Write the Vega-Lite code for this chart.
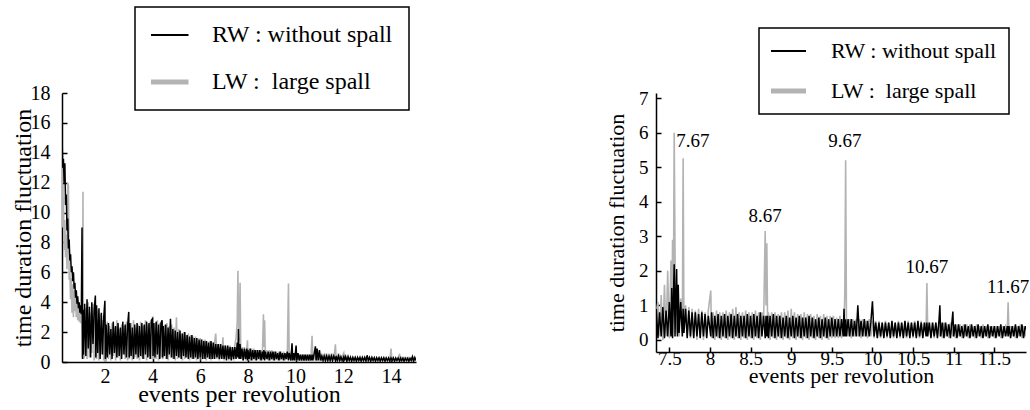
{
"$schema": "https://vega.github.io/schema/vega-lite/v6.json",
"background": "white",
"padding": {"left": 10, "top": 6, "right": 2, "bottom": 2},
"bounds": "flush",
"spacing": 240,
"config": {
  "view": {"stroke": null},
  "font": "Liberation Serif",
  "axis": {"domainColor": "black", "domainWidth": 1.5, "tickColor": "black", "tickWidth": 1.5, "tickSize": -5, "labelColor": "black", "titleColor": "black", "labelFont": "Liberation Serif", "titleFont": "Liberation Serif", "titleFontWeight": "normal", "grid": false, "labelOverlap": false, "labelFlush": false}
},
"resolve": {"scale": {"color": "independent"}, "legend": {"color": "independent"}},
"hconcat": [
{
  "width": 354, "height": 269,
  "data": {"values": [
{"x":0.2,"rw":15.2,"lw":14},{"x":0.23,"rw":13,"lw":9},{"x":0.26,"rw":13.6,"lw":11},{"x":0.29,"rw":12,"lw":7.5},{"x":0.32,"rw":13.3,"lw":9.5},{"x":0.35,"rw":10.5,"lw":7},{"x":0.38,"rw":11.2,"lw":8.5},{"x":0.41,"rw":8.8,"lw":6.2},{"x":0.44,"rw":9.6,"lw":12},{"x":0.47,"rw":7.6,"lw":11.8},{"x":0.5,"rw":8.2,"lw":5.5},{"x":0.53,"rw":6.8,"lw":6},{"x":0.56,"rw":7.2,"lw":4.2},{"x":0.59,"rw":6,"lw":5.6},{"x":0.62,"rw":6.4,"lw":3.3},{"x":0.65,"rw":5.4,"lw":5.2},{"x":0.68,"rw":6,"lw":3},{"x":0.71,"rw":4.9,"lw":4.8},{"x":0.74,"rw":5.3,"lw":3.4},{"x":0.77,"rw":4.3,"lw":4.5},{"x":0.8,"rw":4.8,"lw":3},{"x":0.83,"rw":3.9,"lw":4.2},{"x":0.86,"rw":4.4,"lw":2.8},{"x":0.89,"rw":3.6,"lw":3.9},{"x":0.92,"rw":4,"lw":2.7},{"x":0.95,"rw":3.3,"lw":3.6},{"x":0.98,"rw":3.8,"lw":2.6},{"x":1.01,"rw":3.2,"lw":3.4},{"x":1.04,"rw":9,"lw":2.4},{"x":1.06,"rw":0.2,"lw":0.3},{"x":1.08,"rw":3.5,"lw":11.4},{"x":1.1,"rw":0.5,"lw":0.2},
{"x":1.15,"rw":3.9,"lw":0.4},{"x":1.2,"rw":0.4,"lw":3.6},{"x":1.25,"rw":4.2,"lw":0.2},{"x":1.3,"rw":0.9,"lw":4},{"x":1.35,"rw":3.7,"lw":0.3},{"x":1.4,"rw":0.3,"lw":3.3},{"x":1.45,"rw":4,"lw":0.6},{"x":1.5,"rw":1.2,"lw":3.9},{"x":1.55,"rw":3.5,"lw":0.1},{"x":1.6,"rw":4.45,"lw":3},{"x":1.62,"rw":0.3,"lw":0.4},{"x":1.65,"rw":3.8,"lw":0.2},{"x":1.7,"rw":0.6,"lw":3.5},{"x":1.75,"rw":3.6,"lw":0.1},{"x":1.8,"rw":0.2,"lw":3.2},{"x":1.85,"rw":3.3,"lw":0.5},{"x":1.9,"rw":0.5,"lw":2.8},{"x":1.95,"rw":3,"lw":0.1},{"x":2,"rw":4.1,"lw":2.6},{"x":2.02,"rw":0.2,"lw":0.3},{"x":2.05,"rw":2.5,"lw":0},
{"x":2.1,"rw":0.3,"lw":2.7},{"x":2.15,"rw":2.6,"lw":0.2},{"x":2.2,"rw":0.5,"lw":2.4},{"x":2.25,"rw":2.2,"lw":0.1},{"x":2.3,"rw":0.2,"lw":2.6},{"x":2.35,"rw":2.7,"lw":0.4},{"x":2.4,"rw":0.6,"lw":2.3},{"x":2.45,"rw":2.4,"lw":0.1},{"x":2.5,"rw":0.3,"lw":2.8},{"x":2.55,"rw":2.6,"lw":0.3},{"x":2.6,"rw":0.4,"lw":2.2},{"x":2.65,"rw":2.3,"lw":0.1},{"x":2.7,"rw":0.2,"lw":2.5},{"x":2.75,"rw":2.7,"lw":0.5},{"x":2.8,"rw":0.5,"lw":2.4},{"x":2.85,"rw":2.5,"lw":0.2},{"x":2.9,"rw":0.3,"lw":2.7},{"x":2.95,"rw":2.4,"lw":0.1},{"x":3,"rw":3.35,"lw":2.5},{"x":3.02,"rw":0.3,"lw":0.2},{"x":3.05,"rw":2.6,"lw":0.4},
{"x":3.1,"rw":0.4,"lw":2.6},{"x":3.15,"rw":2.3,"lw":0.1},{"x":3.2,"rw":0.2,"lw":2.8},{"x":3.25,"rw":2.5,"lw":0.3},{"x":3.3,"rw":0.5,"lw":2.3},{"x":3.35,"rw":2.6,"lw":0.2},{"x":3.4,"rw":0.3,"lw":2.5},{"x":3.45,"rw":2.4,"lw":0.1},{"x":3.5,"rw":0.4,"lw":2.7},{"x":3.55,"rw":2.6,"lw":0.3},{"x":3.6,"rw":0.2,"lw":2.4},{"x":3.65,"rw":2.5,"lw":0.2},{"x":3.7,"rw":0.5,"lw":2.8},{"x":3.75,"rw":2.7,"lw":0.1},{"x":3.8,"rw":0.3,"lw":2.5},{"x":3.85,"rw":2.6,"lw":0.4},{"x":3.9,"rw":0.2,"lw":2.7},{"x":3.95,"rw":2.8,"lw":0.2},{"x":4,"rw":2.9,"lw":3.05},{"x":4.02,"rw":0.4,"lw":0.2},{"x":4.05,"rw":2.6,"lw":0.3},
{"x":4.1,"rw":0.3,"lw":2.6},{"x":4.15,"rw":2.7,"lw":0.2},{"x":4.2,"rw":0.5,"lw":2.8},{"x":4.25,"rw":2.5,"lw":0.1},{"x":4.3,"rw":0.2,"lw":2.6},{"x":4.35,"rw":2.6,"lw":0.3},{"x":4.4,"rw":2.8,"lw":2.7},{"x":4.42,"rw":0.3,"lw":0.2},{"x":4.45,"rw":2.4,"lw":0.4},{"x":4.5,"rw":0.4,"lw":2.5},{"x":4.55,"rw":2.5,"lw":0.2},{"x":4.6,"rw":0.2,"lw":2.6},{"x":4.65,"rw":2.3,"lw":0.1},{"x":4.7,"rw":0.5,"lw":2.4},{"x":4.75,"rw":2.9,"lw":0.3},{"x":4.8,"rw":0.3,"lw":2.5},{"x":4.85,"rw":2.2,"lw":0.2},{"x":4.9,"rw":0.2,"lw":2.3},{"x":4.95,"rw":2.1,"lw":0.1},{"x":5,"rw":0.4,"lw":3},
{"x":5.05,"rw":2,"lw":0.2},{"x":5.1,"rw":0.3,"lw":2.2},{"x":5.15,"rw":2.1,"lw":0.3},{"x":5.2,"rw":0.2,"lw":1.9},{"x":5.25,"rw":1.9,"lw":0.1},{"x":5.3,"rw":0.4,"lw":2},{"x":5.35,"rw":2,"lw":0.2},{"x":5.4,"rw":0.3,"lw":1.8},{"x":5.45,"rw":1.8,"lw":0.3},{"x":5.5,"rw":0.2,"lw":1.9},{"x":5.55,"rw":1.7,"lw":0.1},{"x":5.6,"rw":0.3,"lw":1.8},{"x":5.65,"rw":1.8,"lw":0.2},{"x":5.7,"rw":0.2,"lw":1.7},{"x":5.75,"rw":1.6,"lw":0.2},{"x":5.8,"rw":0.3,"lw":1.7},{"x":5.85,"rw":1.6,"lw":0.1},{"x":5.9,"rw":0.2,"lw":1.6},{"x":5.95,"rw":1.5,"lw":0.2},{"x":6,"rw":0.3,"lw":1.6},
{"x":6.05,"rw":1.5,"lw":0.1},{"x":6.1,"rw":0.2,"lw":1.5},{"x":6.15,"rw":1.4,"lw":0.2},{"x":6.2,"rw":0.2,"lw":1.5},{"x":6.25,"rw":1.4,"lw":0.1},{"x":6.3,"rw":0.3,"lw":1.4},{"x":6.35,"rw":1.3,"lw":0.2},{"x":6.4,"rw":0.2,"lw":1.4},{"x":6.45,"rw":1.4,"lw":0.1},{"x":6.5,"rw":0.2,"lw":1.3},{"x":6.55,"rw":1.3,"lw":0.2},{"x":6.6,"rw":0.2,"lw":1.3},{"x":6.65,"rw":1.2,"lw":1.9},{"x":6.7,"rw":0.3,"lw":0.2},{"x":6.75,"rw":1.2,"lw":1.2},{"x":6.8,"rw":0.2,"lw":0.1},{"x":6.85,"rw":1.2,"lw":1.2},{"x":6.9,"rw":0.2,"lw":0.2},{"x":6.95,"rw":1.1,"lw":1.65},{"x":7,"rw":0.2,"lw":0.1},
{"x":7.05,"rw":1.1,"lw":1.1},{"x":7.1,"rw":0.1,"lw":0.2},{"x":7.15,"rw":1.1,"lw":1.1},{"x":7.2,"rw":0.2,"lw":0.1},{"x":7.25,"rw":1,"lw":1.1},{"x":7.3,"rw":0.1,"lw":0.2},{"x":7.35,"rw":1,"lw":1},{"x":7.4,"rw":0.2,"lw":0.1},{"x":7.45,"rw":1,"lw":1.1},{"x":7.5,"rw":0.2,"lw":1.6},{"x":7.55,"rw":1.3,"lw":2.6},{"x":7.58,"rw":0.3,"lw":6.1},{"x":7.6,"rw":2.2,"lw":3},{"x":7.63,"rw":0.2,"lw":1.4},{"x":7.67,"rw":1.2,"lw":5.3},{"x":7.7,"rw":0.2,"lw":0.4},{"x":7.75,"rw":0.9,"lw":1},{"x":7.8,"rw":0.1,"lw":0.1},{"x":7.85,"rw":0.9,"lw":1},{"x":7.9,"rw":0.2,"lw":0.1},{"x":7.95,"rw":0.9,"lw":0.9},{"x":7.98,"rw":0.1,"lw":1.45},{"x":8,"rw":0.8,"lw":0.1},
{"x":8.05,"rw":0.2,"lw":0.9},{"x":8.1,"rw":0.9,"lw":0.1},{"x":8.15,"rw":0.1,"lw":0.9},{"x":8.2,"rw":0.8,"lw":0.1},{"x":8.25,"rw":0.2,"lw":0.9},{"x":8.3,"rw":0.8,"lw":0.1},{"x":8.35,"rw":0.1,"lw":0.8},{"x":8.4,"rw":0.8,"lw":0.1},{"x":8.45,"rw":0.2,"lw":0.8},{"x":8.5,"rw":0.8,"lw":0.1},{"x":8.55,"rw":0.1,"lw":0.8},{"x":8.6,"rw":0.7,"lw":0.1},{"x":8.65,"rw":0.2,"lw":3.2},{"x":8.67,"rw":0.8,"lw":1},{"x":8.7,"rw":0.1,"lw":2.8},{"x":8.73,"rw":0.7,"lw":0.2},{"x":8.8,"rw":0.2,"lw":0.8},{"x":8.85,"rw":0.7,"lw":0.1},{"x":8.9,"rw":0.1,"lw":0.8},{"x":8.95,"rw":0.7,"lw":0.1},
{"x":9,"rw":0.2,"lw":0.8},{"x":9.05,"rw":0.7,"lw":0.1},{"x":9.1,"rw":0.1,"lw":0.7},{"x":9.15,"rw":0.7,"lw":0.1},{"x":9.2,"rw":0.2,"lw":0.7},{"x":9.25,"rw":0.6,"lw":0.1},{"x":9.3,"rw":0.1,"lw":0.7},{"x":9.35,"rw":0.7,"lw":0.1},{"x":9.4,"rw":0.2,"lw":0.7},{"x":9.45,"rw":0.6,"lw":0.1},{"x":9.5,"rw":0.1,"lw":0.7},{"x":9.55,"rw":0.6,"lw":0.1},{"x":9.6,"rw":0.2,"lw":0.6},{"x":9.65,"rw":0.7,"lw":0.2},{"x":9.7,"rw":0.1,"lw":5.25},{"x":9.73,"rw":0.6,"lw":0.3},{"x":9.8,"rw":0.1,"lw":0.6},{"x":9.85,"rw":1.25,"lw":0.1},{"x":9.88,"rw":0.1,"lw":0.6},{"x":9.92,"rw":0.6,"lw":0.1},{"x":9.96,"rw":0.1,"lw":0.6},{"x":10.02,"rw":1.1,"lw":0.1},
{"x":10.05,"rw":0.1,"lw":0.5},{"x":10.1,"rw":0.6,"lw":0.1},{"x":10.15,"rw":0.1,"lw":0.5},{"x":10.2,"rw":0.5,"lw":0.1},{"x":10.25,"rw":0.1,"lw":0.5},{"x":10.3,"rw":0.5,"lw":0.1},{"x":10.35,"rw":0.1,"lw":0.5},{"x":10.4,"rw":0.5,"lw":0.1},{"x":10.45,"rw":0.1,"lw":0.5},{"x":10.5,"rw":0.5,"lw":0.1},{"x":10.55,"rw":0.1,"lw":0.5},{"x":10.6,"rw":0.5,"lw":0.1},{"x":10.65,"rw":0.1,"lw":0.5},{"x":10.69,"rw":0.5,"lw":1.75},{"x":10.72,"rw":0.1,"lw":0.2},{"x":10.77,"rw":0.5,"lw":0.5},{"x":10.83,"rw":1.05,"lw":0.1},{"x":10.86,"rw":0.1,"lw":0.5},{"x":10.9,"rw":0.9,"lw":0.1},{"x":10.95,"rw":0.1,"lw":0.5},{"x":11,"rw":0.8,"lw":0.1},
{"x":11.05,"rw":0.1,"lw":0.4},{"x":11.1,"rw":0.4,"lw":0.1},{"x":11.15,"rw":0.1,"lw":0.4},{"x":11.2,"rw":0.4,"lw":0.1},{"x":11.25,"rw":0.1,"lw":0.4},{"x":11.3,"rw":0.4,"lw":0.1},{"x":11.35,"rw":0.1,"lw":0.4},{"x":11.4,"rw":0.4,"lw":0.1},{"x":11.45,"rw":0.1,"lw":0.4},{"x":11.5,"rw":0.4,"lw":0.1},{"x":11.55,"rw":0.1,"lw":0.4},{"x":11.6,"rw":0.4,"lw":0.1},{"x":11.67,"rw":0.1,"lw":1.18},{"x":11.7,"rw":0.4,"lw":0.1},{"x":11.75,"rw":0.1,"lw":0.4},{"x":11.8,"rw":0.4,"lw":0.1},{"x":11.85,"rw":0.1,"lw":0.4},{"x":11.9,"rw":0.35,"lw":0.1},{"x":11.95,"rw":0.1,"lw":0.35},{"x":12.02,"rw":0.35,"lw":0.6},
{"x":12.05,"rw":0.1,"lw":0.1},{"x":12.1,"rw":0.35,"lw":0.35},{"x":12.15,"rw":0.05,"lw":0.1},{"x":12.2,"rw":0.35,"lw":0.35},{"x":12.25,"rw":0.1,"lw":0.1},{"x":12.3,"rw":0.3,"lw":0.35},{"x":12.35,"rw":0.05,"lw":0.1},{"x":12.4,"rw":0.3,"lw":0.3},{"x":12.45,"rw":0.1,"lw":0.05},{"x":12.5,"rw":0.3,"lw":0.3},{"x":12.55,"rw":0.05,"lw":0.1},{"x":12.6,"rw":0.3,"lw":0.3},{"x":12.65,"rw":0.1,"lw":0.05},{"x":12.7,"rw":0.3,"lw":0.3},{"x":12.75,"rw":0.05,"lw":0.1},{"x":12.8,"rw":0.3,"lw":0.3},{"x":12.85,"rw":0.1,"lw":0.05},{"x":12.9,"rw":0.3,"lw":0.3},{"x":12.95,"rw":0.05,"lw":0.1},{"x":13,"rw":0.45,"lw":0.3},
{"x":13.05,"rw":0.1,"lw":0.05},{"x":13.1,"rw":0.3,"lw":0.3},{"x":13.15,"rw":0.05,"lw":0.1},{"x":13.2,"rw":0.3,"lw":0.3},{"x":13.25,"rw":0.1,"lw":0.05},{"x":13.3,"rw":0.28,"lw":0.3},{"x":13.35,"rw":0.05,"lw":0.1},{"x":13.4,"rw":0.28,"lw":0.28},{"x":13.45,"rw":0.1,"lw":0.05},{"x":13.5,"rw":0.28,"lw":0.28},{"x":13.55,"rw":0.05,"lw":0.1},{"x":13.6,"rw":0.28,"lw":0.28},{"x":13.65,"rw":0.1,"lw":0.05},{"x":13.7,"rw":0.28,"lw":0.28},{"x":13.75,"rw":0.05,"lw":0.1},{"x":13.8,"rw":0.27,"lw":0.28},{"x":13.85,"rw":0.1,"lw":0.05},{"x":13.9,"rw":0.27,"lw":0.27},{"x":13.95,"rw":0.05,"lw":0.1},{"x":14,"rw":0.27,"lw":0.9},
{"x":14.05,"rw":0.1,"lw":0.05},{"x":14.1,"rw":0.27,"lw":0.27},{"x":14.15,"rw":0.05,"lw":0.1},{"x":14.2,"rw":0.26,"lw":0.27},{"x":14.25,"rw":0.1,"lw":0.05},{"x":14.3,"rw":0.26,"lw":0.26},{"x":14.36,"rw":0.05,"lw":0.55},{"x":14.4,"rw":0.26,"lw":0.1},{"x":14.45,"rw":0.1,"lw":0.26},{"x":14.5,"rw":0.26,"lw":0.05},{"x":14.55,"rw":0.05,"lw":0.26},{"x":14.6,"rw":0.25,"lw":0.1},{"x":14.65,"rw":0.1,"lw":0.25},{"x":14.7,"rw":0.25,"lw":0.05},{"x":14.75,"rw":0.05,"lw":0.25},{"x":14.8,"rw":0.25,"lw":0.1},{"x":14.85,"rw":0.1,"lw":0.25},{"x":14.9,"rw":0.35,"lw":0.05},{"x":14.95,"rw":0.05,"lw":0.25},{"x":15,"rw":0.3,"lw":0.1},{"x":15.05,"rw":0.1,"lw":0.2}
  ]},
  "layer": [
    {"mark": {"type": "line", "strokeWidth": 1.6, "clip": true},
     "encoding": {
       "x": {"field": "x", "type": "quantitative", "title": "events per revolution", "scale": {"domain": [0.2, 15.05], "nice": false, "zero": false}, "axis": {"values": [2,4,6,8,10,12,14], "labelFontSize": 20, "titleFontSize": 24, "labelPadding": 9, "titlePadding": -4}},
       "y": {"field": "lw", "type": "quantitative", "title": "time duration fluctuation", "scale": {"domain": [0, 18], "nice": false}, "axis": {"values": [0,2,4,6,8,10,12,14,16,18], "labelFontSize": 20, "titleFontSize": 24, "labelPadding": 17, "titlePadding": -5}},
       "color": {"datum": "LW", "scale": {"domain": ["RW", "LW"], "range": ["#000000", "#b3b3b3"]},
         "legend": {"orient": "none", "legendX": 73, "legendY": -86, "direction": "vertical", "title": null, "symbolType": "stroke", "symbolSize": 4627, "symbolStrokeWidth": 2, "clipHeight": 24, "rowPadding": 23, "padding": 16, "labelFontSize": 24, "labelFont": "Liberation Serif", "labelColor": "black", "labelOffset": 38, "symbolOffset": -1, "labelLimit": 0, "strokeColor": "black", "fillColor": "white",
           "labelExpr": "datum.value == 'RW' ? 'RW : without spall\u00a0' : 'LW :\u00a0 large spall\u00a0'",
           "encode": {"symbols": {"update": {"size": {"value": 2809}, "strokeWidth": {"signal": "datum.value == 'LW' ? 5 : 2"}}}, "legend": {"update": {"strokeWidth": {"value": 1.5}}}}}}
     }},
    {"mark": {"type": "line", "strokeWidth": 1.5, "clip": true},
     "encoding": {
       "x": {"field": "x", "type": "quantitative", "title": "events per revolution", "scale": {"domain": [0.2, 15.05], "nice": false, "zero": false}, "axis": {"values": [2,4,6,8,10,12,14], "labelFontSize": 20, "titleFontSize": 24, "labelPadding": 9, "titlePadding": -4}},
       "y": {"field": "rw", "type": "quantitative", "title": "time duration fluctuation", "scale": {"domain": [0, 18], "nice": false}, "axis": {"values": [0,2,4,6,8,10,12,14,16,18], "labelFontSize": 20, "titleFontSize": 24, "labelPadding": 17, "titlePadding": -5}},
       "color": {"datum": "RW"}
     }}
  ]
},
{
  "width": 370, "height": 259,
  "layer": [
    {"data": {"values": [
{"x":7.34,"rw":0.9,"lw":0.8},{"x":7.36,"rw":0.05,"lw":1.1},{"x":7.38,"rw":0.8,"lw":0.1},{"x":7.4,"rw":0.1,"lw":1.3},{"x":7.42,"rw":0.95,"lw":0},{"x":7.44,"rw":0.05,"lw":1.6},{"x":7.46,"rw":0.85,"lw":0.1},{"x":7.48,"rw":0.1,"lw":2},{"x":7.5,"rw":1.1,"lw":0.05},{"x":7.52,"rw":0.1,"lw":2.3},{"x":7.53,"rw":1.5,"lw":0.3},{"x":7.54,"rw":0.05,"lw":2.9},{"x":7.55,"rw":1.2,"lw":1},{"x":7.56,"rw":2.19,"lw":6},{"x":7.57,"rw":0.1,"lw":2.6},{"x":7.58,"rw":1.3,"lw":0.2},{"x":7.59,"rw":2.05,"lw":1.5},{"x":7.6,"rw":0.1,"lw":0.3},{"x":7.61,"rw":1.6,"lw":1.4},{"x":7.62,"rw":0.2,"lw":0.1},{"x":7.64,"rw":1.1,"lw":1.2},{"x":7.66,"rw":0.1,"lw":0.2},{"x":7.67,"rw":0.9,"lw":5.26},{"x":7.68,"rw":0.2,"lw":0.4},
{"x":7.7,"rw":0.9,"lw":1},{"x":7.72,"rw":0.05,"lw":0.1},{"x":7.74,"rw":0.85,"lw":0.95},{"x":7.76,"rw":0.1,"lw":0.05},{"x":7.78,"rw":0.8,"lw":0.9},{"x":7.8,"rw":0.05,"lw":0.1},{"x":7.82,"rw":0.8,"lw":0.85},{"x":7.84,"rw":0.1,"lw":0},{"x":7.86,"rw":0.75,"lw":0.9},{"x":7.88,"rw":0.05,"lw":0.1},{"x":7.9,"rw":0.8,"lw":0.85},{"x":7.92,"rw":0.1,"lw":0},{"x":7.94,"rw":0.75,"lw":0.8},{"x":7.96,"rw":0.05,"lw":0.1},{"x":7.98,"rw":0.7,"lw":0.85},{"x":8.01,"rw":0.1,"lw":1.43},{"x":8.02,"rw":0.8,"lw":0.05},
{"x":8.04,"rw":0.05,"lw":0.8},{"x":8.06,"rw":0.7,"lw":0},{"x":8.08,"rw":0.1,"lw":0.85},{"x":8.1,"rw":0.75,"lw":0.05},{"x":8.12,"rw":0.05,"lw":0.8},{"x":8.14,"rw":0.7,"lw":0},{"x":8.16,"rw":0.1,"lw":0.8},{"x":8.18,"rw":0.75,"lw":0.05},{"x":8.2,"rw":0.05,"lw":0.85},{"x":8.22,"rw":0.7,"lw":0},{"x":8.24,"rw":0.1,"lw":0.8},{"x":8.26,"rw":0.75,"lw":0.05},{"x":8.28,"rw":0.05,"lw":0.9},{"x":8.3,"rw":0.7,"lw":0},{"x":8.32,"rw":0.1,"lw":0.95},{"x":8.34,"rw":0.75,"lw":0.05},{"x":8.36,"rw":0.05,"lw":0.8},{"x":8.38,"rw":0.7,"lw":0},{"x":8.4,"rw":0.1,"lw":0.8},
{"x":8.42,"rw":0.7,"lw":0.05},{"x":8.44,"rw":0.05,"lw":0.85},{"x":8.46,"rw":0.75,"lw":0},{"x":8.48,"rw":0.1,"lw":0.8},{"x":8.5,"rw":0.7,"lw":0.05},{"x":8.52,"rw":0.05,"lw":0.8},{"x":8.54,"rw":0.75,"lw":0},{"x":8.56,"rw":0.1,"lw":0.85},{"x":8.58,"rw":0.7,"lw":0.05},{"x":8.6,"rw":0.05,"lw":0.8},{"x":8.62,"rw":0.8,"lw":0},{"x":8.64,"rw":0.1,"lw":0.8},{"x":8.66,"rw":0.7,"lw":0.5},{"x":8.68,"rw":0.05,"lw":3.15},{"x":8.69,"rw":0.7,"lw":1},{"x":8.7,"rw":0.1,"lw":2.8},{"x":8.71,"rw":0.7,"lw":0.3},{"x":8.72,"rw":0.05,"lw":0.8},
{"x":8.74,"rw":0.7,"lw":0},{"x":8.76,"rw":0.1,"lw":0.8},{"x":8.78,"rw":0.75,"lw":0.05},{"x":8.8,"rw":0.05,"lw":0.8},{"x":8.82,"rw":0.7,"lw":0},{"x":8.84,"rw":0.1,"lw":0.75},{"x":8.86,"rw":0.7,"lw":0.05},{"x":8.88,"rw":0.05,"lw":0.8},{"x":8.9,"rw":0.65,"lw":0},{"x":8.92,"rw":0.1,"lw":0.8},{"x":8.94,"rw":0.7,"lw":0.05},{"x":8.96,"rw":0.05,"lw":0.85},{"x":8.98,"rw":0.65,"lw":0},{"x":9,"rw":0.1,"lw":0.9},{"x":9.02,"rw":0.7,"lw":0.05},{"x":9.04,"rw":0.05,"lw":0.8},{"x":9.06,"rw":0.65,"lw":0},{"x":9.08,"rw":0.1,"lw":0.75},
{"x":9.1,"rw":0.7,"lw":0.05},{"x":9.12,"rw":0.05,"lw":0.75},{"x":9.14,"rw":0.65,"lw":0},{"x":9.16,"rw":0.1,"lw":0.8},{"x":9.18,"rw":0.65,"lw":0.05},{"x":9.2,"rw":0.05,"lw":0.75},{"x":9.22,"rw":0.7,"lw":0},{"x":9.24,"rw":0.1,"lw":0.75},{"x":9.26,"rw":0.65,"lw":0.05},{"x":9.28,"rw":0.05,"lw":0.7},{"x":9.3,"rw":0.6,"lw":0},{"x":9.32,"rw":0.1,"lw":0.75},{"x":9.34,"rw":0.65,"lw":0.05},{"x":9.36,"rw":0.05,"lw":0.7},{"x":9.38,"rw":0.6,"lw":0},{"x":9.4,"rw":0.1,"lw":0.75},{"x":9.42,"rw":0.65,"lw":0.05},{"x":9.44,"rw":0.05,"lw":0.7},
{"x":9.46,"rw":0.6,"lw":0},{"x":9.48,"rw":0.1,"lw":0.7},{"x":9.5,"rw":0.65,"lw":0.05},{"x":9.52,"rw":0.1,"lw":0.7},{"x":9.54,"rw":0.6,"lw":0.05},{"x":9.56,"rw":0.1,"lw":0.65},{"x":9.58,"rw":0.6,"lw":0.05},{"x":9.6,"rw":0.1,"lw":0.7},{"x":9.62,"rw":0.6,"lw":0.05},{"x":9.64,"rw":0.1,"lw":0.6},{"x":9.65,"rw":0.9,"lw":0.3},{"x":9.66,"rw":0.1,"lw":1.4},{"x":9.67,"rw":0.6,"lw":5.2},{"x":9.68,"rw":0.1,"lw":0.6},{"x":9.7,"rw":0.6,"lw":0.1},{"x":9.72,"rw":0.1,"lw":0.6},{"x":9.74,"rw":0.6,"lw":0.05},{"x":9.76,"rw":0.1,"lw":0.6},
{"x":9.78,"rw":0.55,"lw":0.1},{"x":9.8,"rw":0.1,"lw":0.6},{"x":9.82,"rw":1,"lw":0.1},{"x":9.84,"rw":0.1,"lw":0.6},{"x":9.86,"rw":0.55,"lw":0.05},{"x":9.88,"rw":0.1,"lw":0.6},{"x":9.9,"rw":0.6,"lw":0.1},{"x":9.92,"rw":0.1,"lw":0.55},{"x":9.94,"rw":0.55,"lw":0.05},{"x":9.96,"rw":0.1,"lw":0.6},{"x":9.98,"rw":0.5,"lw":0.1},{"x":10,"rw":1.12,"lw":0.55},{"x":10.02,"rw":0.1,"lw":0.05},{"x":10.04,"rw":0.5,"lw":0.55},{"x":10.06,"rw":0.05,"lw":0.1},{"x":10.08,"rw":0.5,"lw":0.55},{"x":10.1,"rw":0.1,"lw":0.05},
{"x":10.12,"rw":0.5,"lw":0.5},{"x":10.14,"rw":0.05,"lw":0.1},{"x":10.16,"rw":0.5,"lw":0.55},{"x":10.18,"rw":0.1,"lw":0.05},{"x":10.2,"rw":0.5,"lw":0.5},{"x":10.22,"rw":0.05,"lw":0.1},{"x":10.24,"rw":0.55,"lw":0.5},{"x":10.26,"rw":0.1,"lw":0.05},{"x":10.28,"rw":0.5,"lw":0.5},{"x":10.3,"rw":0.05,"lw":0.1},{"x":10.32,"rw":0.5,"lw":0.55},{"x":10.34,"rw":0.1,"lw":0.05},{"x":10.36,"rw":0.5,"lw":0.5},{"x":10.38,"rw":0.05,"lw":0.1},{"x":10.4,"rw":0.55,"lw":0.5},{"x":10.42,"rw":0.1,"lw":0.05},
{"x":10.44,"rw":0.5,"lw":0.55},{"x":10.46,"rw":0.05,"lw":0.1},{"x":10.48,"rw":0.5,"lw":0.5},{"x":10.5,"rw":0.1,"lw":0.05},{"x":10.52,"rw":0.5,"lw":0.55},{"x":10.54,"rw":0.05,"lw":0.1},{"x":10.56,"rw":0.55,"lw":0.5},{"x":10.58,"rw":0.1,"lw":0.05},{"x":10.6,"rw":0.5,"lw":0.55},{"x":10.62,"rw":0.05,"lw":0.1},{"x":10.64,"rw":0.5,"lw":0.5},{"x":10.66,"rw":0.1,"lw":0.3},{"x":10.67,"rw":0.5,"lw":1.65},{"x":10.68,"rw":0.1,"lw":0.3},{"x":10.7,"rw":0.5,"lw":0.5},{"x":10.72,"rw":0.05,"lw":0.1},
{"x":10.74,"rw":0.5,"lw":0.5},{"x":10.76,"rw":0.1,"lw":0.05},{"x":10.78,"rw":0.5,"lw":0.5},{"x":10.8,"rw":0.05,"lw":0.1},{"x":10.82,"rw":0.6,"lw":0.5},{"x":10.83,"rw":1,"lw":0.1},{"x":10.84,"rw":0.1,"lw":0.5},{"x":10.86,"rw":0.5,"lw":0.05},{"x":10.88,"rw":0.05,"lw":0.5},{"x":10.9,"rw":0.5,"lw":0.1},{"x":10.92,"rw":0.1,"lw":0.45},{"x":10.94,"rw":0.45,"lw":0.05},{"x":10.96,"rw":0.05,"lw":0.5},{"x":10.99,"rw":0.82,"lw":0.1},{"x":11,"rw":0.1,"lw":0.45},
{"x":11.02,"rw":0.45,"lw":0.05},{"x":11.04,"rw":0.05,"lw":0.45},{"x":11.06,"rw":0.45,"lw":0.1},{"x":11.08,"rw":0.1,"lw":0.45},{"x":11.1,"rw":0.4,"lw":0.05},{"x":11.12,"rw":0.05,"lw":0.45},{"x":11.14,"rw":0.45,"lw":0.1},{"x":11.16,"rw":0.1,"lw":0.45},{"x":11.18,"rw":0.4,"lw":0.05},{"x":11.2,"rw":0.05,"lw":0.45},{"x":11.22,"rw":0.45,"lw":0.1},{"x":11.24,"rw":0.1,"lw":0.4},{"x":11.26,"rw":0.4,"lw":0.05},{"x":11.28,"rw":0.05,"lw":0.45},{"x":11.3,"rw":0.45,"lw":0.1},
{"x":11.32,"rw":0.1,"lw":0.4},{"x":11.34,"rw":0.4,"lw":0.05},{"x":11.36,"rw":0.05,"lw":0.45},{"x":11.38,"rw":0.4,"lw":0.1},{"x":11.4,"rw":0.1,"lw":0.4},{"x":11.42,"rw":0.45,"lw":0.05},{"x":11.44,"rw":0.05,"lw":0.4},{"x":11.46,"rw":0.4,"lw":0.1},{"x":11.48,"rw":0.1,"lw":0.4},{"x":11.5,"rw":0.4,"lw":0.05},{"x":11.52,"rw":0.05,"lw":0.4},{"x":11.54,"rw":0.4,"lw":0.1},{"x":11.56,"rw":0.1,"lw":0.4},{"x":11.58,"rw":0.45,"lw":0.05},{"x":11.6,"rw":0.05,"lw":0.4},{"x":11.62,"rw":0.4,"lw":0.1},
{"x":11.64,"rw":0.1,"lw":0.4},{"x":11.66,"rw":0.4,"lw":0.3},{"x":11.67,"rw":0.1,"lw":1.09},{"x":11.68,"rw":0.4,"lw":0.2},{"x":11.7,"rw":0.05,"lw":0.4},{"x":11.72,"rw":0.4,"lw":0.1},{"x":11.74,"rw":0.1,"lw":0.4},{"x":11.76,"rw":0.45,"lw":0.05},{"x":11.78,"rw":0.05,"lw":0.4},{"x":11.8,"rw":0.4,"lw":0.1},{"x":11.82,"rw":0.1,"lw":0.45},{"x":11.84,"rw":0.45,"lw":0.05},{"x":11.86,"rw":0.05,"lw":0.4},{"x":11.88,"rw":0.4,"lw":0.1},{"x":11.89,"rw":0.3,"lw":0.3}
    ]},
     "layer": [
      {"mark": {"type": "line", "strokeWidth": 1.6, "clip": true},
       "encoding": {
         "x": {"field": "x", "type": "quantitative", "title": "events per revolution", "scale": {"domain": [7.336, 11.89], "nice": false, "zero": false}, "axis": {"values": [7.5,8,8.5,9,9.5,10,10.5,11,11.5], "format": "~g", "labelFontSize": 19, "titleFontSize": 22, "labelPadding": 2, "titlePadding": -3}},
         "y": {"field": "lw", "type": "quantitative", "title": "time duration fluctuation", "scale": {"domain": [-0.35, 7.15], "nice": false, "zero": false}, "axis": {"values": [0,1,2,3,4,5,6,7], "labelFontSize": 19, "titleFontSize": 22, "labelPadding": 13, "titlePadding": 10}},
         "color": {"datum": "LW", "scale": {"domain": ["RW", "LW"], "range": ["#000000", "#b3b3b3"]},
           "legend": {"orient": "none", "legendX": 103, "legendY": -65, "direction": "vertical", "title": null, "symbolType": "stroke", "symbolSize": 4263, "symbolStrokeWidth": 2, "clipHeight": 22, "rowPadding": 18, "padding": 12, "labelFontSize": 22, "labelFont": "Liberation Serif", "labelColor": "black", "labelOffset": 39, "symbolOffset": -1, "labelLimit": 0, "strokeColor": "black", "fillColor": "white",
             "labelExpr": "datum.value == 'RW' ? 'RW : without spall\u00a0\u00a0\u00a0' : 'LW :\u00a0 large spall\u00a0\u00a0\u00a0'",
             "encode": {"symbols": {"update": {"size": {"value": 2500}, "strokeWidth": {"signal": "datum.value == 'LW' ? 5 : 2"}}}, "legend": {"update": {"strokeWidth": {"value": 1.5}}}}}}
       }},
      {"mark": {"type": "line", "strokeWidth": 1.5, "clip": true},
       "encoding": {
         "x": {"field": "x", "type": "quantitative", "title": "events per revolution", "scale": {"domain": [7.336, 11.89], "nice": false, "zero": false}, "axis": {"values": [7.5,8,8.5,9,9.5,10,10.5,11,11.5], "format": "~g", "labelFontSize": 19, "titleFontSize": 22, "labelPadding": 2, "titlePadding": -3}},
         "y": {"field": "rw", "type": "quantitative", "title": "time duration fluctuation", "scale": {"domain": [-0.35, 7.15], "nice": false, "zero": false}, "axis": {"values": [0,1,2,3,4,5,6,7], "labelFontSize": 19, "titleFontSize": 22, "labelPadding": 13, "titlePadding": 10}},
         "color": {"datum": "RW"}
       }}
     ]},
    {"data": {"values": [
      {"px": 7.79, "py": 5.75, "label": "7.67"},
      {"px": 8.68, "py": 3.6, "label": "8.67"},
      {"px": 9.66, "py": 5.75, "label": "9.67"},
      {"px": 10.67, "py": 2.12, "label": "10.67"},
      {"px": 11.67, "py": 1.54, "label": "11.67"}
    ]},
     "mark": {"type": "text", "font": "Liberation Serif", "fontSize": 19, "baseline": "middle", "align": "center", "color": "black"},
     "encoding": {
       "x": {"field": "px", "type": "quantitative", "title": "events per revolution", "scale": {"domain": [7.336, 11.89], "nice": false, "zero": false}, "axis": {"values": [7.5,8,8.5,9,9.5,10,10.5,11,11.5], "format": "~g", "labelFontSize": 19, "titleFontSize": 22, "labelPadding": 2, "titlePadding": -3}},
       "y": {"field": "py", "type": "quantitative", "title": "time duration fluctuation", "scale": {"domain": [-0.35, 7.15], "nice": false, "zero": false}, "axis": {"values": [0,1,2,3,4,5,6,7], "labelFontSize": 19, "titleFontSize": 22, "labelPadding": 13, "titlePadding": 10}},
       "text": {"field": "label"}
     }}
  ]
}
]
}
